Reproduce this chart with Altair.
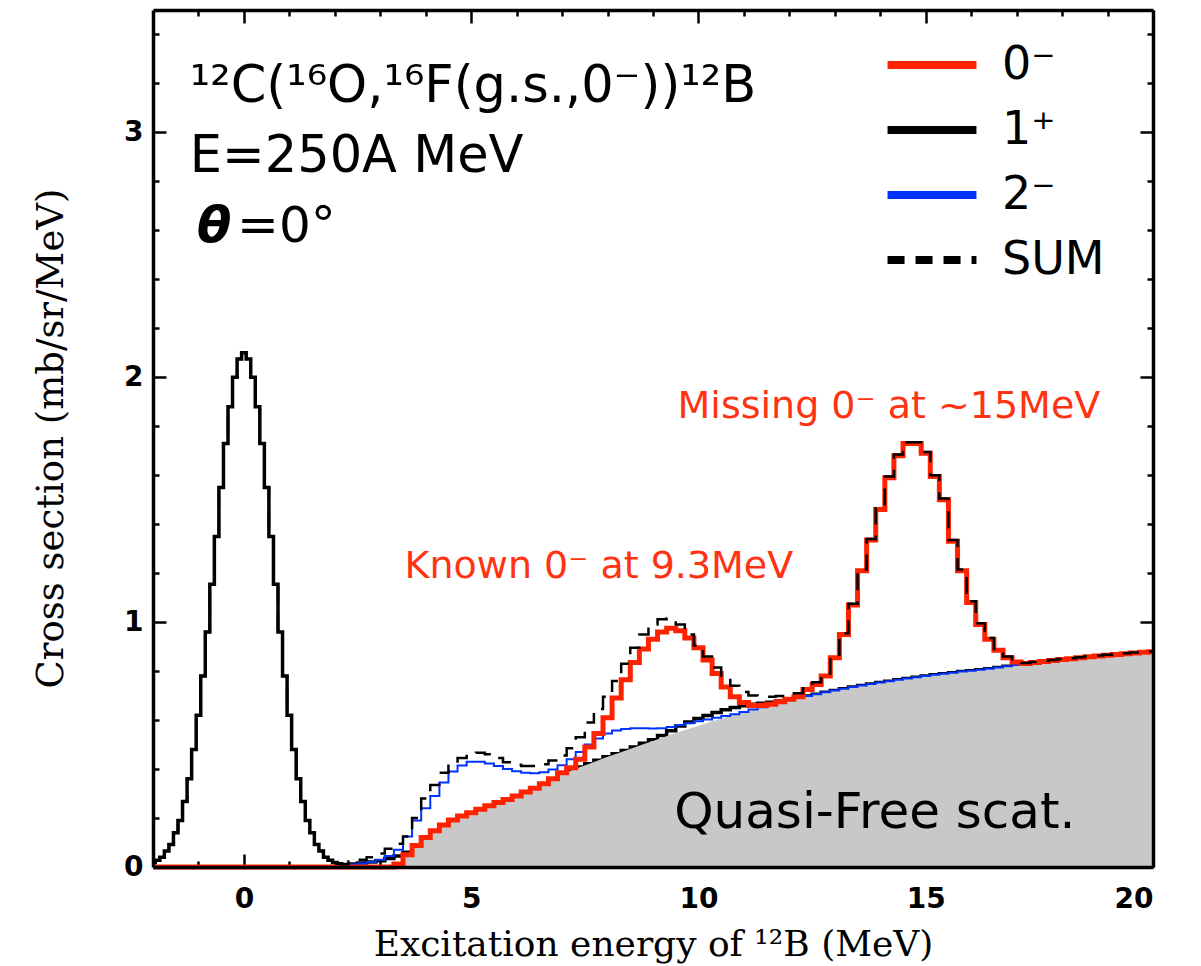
import altair as alt
import numpy as np
import pandas as pd

# ---------------- data ----------------
energy_mev = np.round(np.arange(-2.0, 20.0001, 0.2), 1)    # coarse bin centres (0.2 MeV)
energy_fine = np.round(np.arange(-2.0, 2.2001, 0.1), 1)    # g.s. peak region (0.1 MeV)
energy_tail = energy_mev[22:]                              # 2.4 ... 20 MeV

# ground-state (1+) peak, shared by the 1+ and SUM histograms, -2.0 ... 2.2 MeV
gs_peak = [
    0.018, 0.028, 0.04, 0.065, 0.092, 0.14, 0.19, 0.267, 0.36, 0.48,
    0.62, 0.78, 0.96, 1.155, 1.35, 1.55, 1.73, 1.88, 2.0, 2.075,
    2.1, 2.075, 2.0, 1.88, 1.73, 1.55, 1.35, 1.155, 0.96, 0.78,
    0.62, 0.48, 0.36, 0.267, 0.19, 0.14, 0.092, 0.065, 0.04, 0.028,
    0.018, 0.013, 0.01,
]

quasi_free = [
    0, 0, 0, 0, 0, 0, 0, 0, 0, 0,
    0, 0, 0, 0, 0, 0, 0, 0, 0, 0,
    0, 0, 0, 0, 0, 0, 0, 0.01, 0.05, 0.088,
    0.12, 0.148, 0.172, 0.192, 0.208, 0.222, 0.236, 0.25, 0.263, 0.276,
    0.29, 0.306, 0.322, 0.34, 0.36, 0.38, 0.394, 0.408, 0.422, 0.436,
    0.45, 0.463, 0.476, 0.489, 0.502, 0.515, 0.528, 0.541, 0.553, 0.565,
    0.577, 0.589, 0.6, 0.611, 0.622, 0.632, 0.642, 0.652, 0.662, 0.672,
    0.681, 0.69, 0.698, 0.706, 0.714, 0.721, 0.728, 0.735, 0.741, 0.747,
    0.753, 0.759, 0.765, 0.77, 0.775, 0.78, 0.785, 0.789, 0.793, 0.798,
    0.802, 0.806, 0.81, 0.815, 0.82, 0.825, 0.829, 0.833, 0.837, 0.841,
    0.845, 0.849, 0.853, 0.857, 0.86, 0.863, 0.866, 0.869, 0.872, 0.875, 0.877,
]

zero_minus = [
    0, 0, 0, 0, 0, 0, 0, 0, 0, 0,
    0, 0, 0, 0, 0, 0, 0, 0, 0, 0,
    0, 0, 0, 0, 0, 0, 0, 0.012, 0.05, 0.088,
    0.12, 0.148, 0.172, 0.192, 0.208, 0.222, 0.236, 0.25, 0.263, 0.276,
    0.29, 0.306, 0.322, 0.34, 0.36, 0.385, 0.405, 0.44, 0.49, 0.545,
    0.61, 0.69, 0.765, 0.835, 0.89, 0.93, 0.96, 0.975, 0.965, 0.935,
    0.895, 0.845, 0.79, 0.735, 0.695, 0.672, 0.66, 0.66, 0.665, 0.675,
    0.685, 0.695, 0.725, 0.745, 0.78, 0.855, 0.95, 1.07, 1.21, 1.335,
    1.46, 1.59, 1.68, 1.73, 1.73, 1.69, 1.595, 1.5, 1.33, 1.21,
    1.08, 0.99, 0.93, 0.885, 0.855, 0.837, 0.831, 0.835, 0.839, 0.843,
    0.847, 0.851, 0.855, 0.859, 0.862, 0.865, 0.868, 0.871, 0.874, 0.877, 0.879,
]

# 1+ beyond the g.s. peak, 2.4 ... 20 MeV
one_plus_tail = [
    0.012, 0.016, 0.02, 0.026, 0.035, 0.045, 0.06, 0.09,
    0.12, 0.148, 0.172, 0.192, 0.208, 0.222, 0.236, 0.25, 0.263, 0.276,
    0.29, 0.306, 0.322, 0.34, 0.36, 0.38, 0.394, 0.408, 0.422, 0.436,
    0.45, 0.463, 0.476, 0.49, 0.505, 0.52, 0.537, 0.556, 0.576, 0.592,
    0.606, 0.619, 0.631, 0.642, 0.651, 0.659, 0.665, 0.669, 0.673, 0.678,
    0.684, 0.691, 0.698, 0.706, 0.714, 0.721, 0.728, 0.735, 0.741, 0.747,
    0.753, 0.759, 0.765, 0.77, 0.775, 0.78, 0.785, 0.789, 0.793, 0.798,
    0.802, 0.806, 0.81, 0.815, 0.82, 0.825, 0.829, 0.833, 0.837, 0.841,
    0.845, 0.849, 0.853, 0.857, 0.86, 0.863, 0.866, 0.869, 0.872, 0.875, 0.877,
]

two_minus = [
    0, 0, 0, 0, 0, 0, 0, 0, 0, 0,
    0, 0, 0, 0, 0, 0, 0, 0, 0, 0,
    0.003, 0.006, 0.01, 0.014, 0.02, 0.03, 0.045, 0.07, 0.125, 0.19,
    0.24, 0.29, 0.345, 0.39, 0.415, 0.43, 0.43, 0.423, 0.412, 0.4,
    0.391, 0.385, 0.383, 0.387, 0.398, 0.416, 0.44, 0.47, 0.5, 0.525,
    0.545, 0.557, 0.564, 0.567, 0.567, 0.566, 0.567, 0.572, 0.58, 0.587,
    0.595, 0.602, 0.61, 0.617, 0.624, 0.633, 0.643, 0.652, 0.662, 0.672,
    0.681, 0.69, 0.698, 0.706, 0.714, 0.721, 0.728, 0.735, 0.741, 0.747,
    0.753, 0.759, 0.765, 0.77, 0.775, 0.78, 0.785, 0.789, 0.793, 0.798,
    0.802, 0.806, 0.81, 0.815, 0.82, 0.825, 0.829, 0.833, 0.837, 0.841,
    0.845, 0.849, 0.853, 0.857, 0.86, 0.863, 0.866, 0.869, 0.872, 0.875, 0.877,
]

# SUM beyond the g.s. peak, 2.4 ... 20 MeV
total_sum_tail = [
    0.022, 0.03, 0.04, 0.055, 0.075, 0.095, 0.125, 0.2,
    0.28, 0.335, 0.385, 0.42, 0.445, 0.465, 0.467, 0.46, 0.445, 0.428,
    0.418, 0.412, 0.412, 0.42, 0.435, 0.455, 0.485, 0.53, 0.59, 0.645,
    0.695, 0.76, 0.83, 0.895, 0.95, 0.99, 1.012, 1.015, 0.99, 0.95,
    0.905, 0.86, 0.815, 0.775, 0.74, 0.715, 0.7, 0.695, 0.695, 0.698,
    0.702, 0.71, 0.73, 0.755, 0.79, 0.86, 0.955, 1.075, 1.215, 1.34,
    1.465, 1.595, 1.685, 1.735, 1.735, 1.695, 1.6, 1.505, 1.335, 1.215,
    1.085, 0.995, 0.935, 0.89, 0.86, 0.84, 0.833, 0.837, 0.841, 0.845,
    0.849, 0.853, 0.857, 0.861, 0.864, 0.867, 0.87, 0.873, 0.876, 0.878, 0.88,
]

series_names = ["0⁻", "1⁺", "2⁻", "SUM"]
series_colors = ["#ff2200", "#000000", "#0033ff", "#000000"]
series_dash = [[1, 0], [1, 0], [1, 0], [17, 11]]

x_major = [0, 5, 10, 15, 20]
x_minor = [v for v in range(-1, 20) if v % 5 != 0]
y_major = [0, 1, 2, 3]
y_minor = [round(0.2 * k, 1) for k in range(1, 18) if k % 5 != 0]

# annotations
title_lines = ["¹²C(¹⁶O,¹⁶F(g.s.,0⁻))¹²B", "E=250A MeV"]
title_e = [-1.19, -1.19]
title_v = [3.125, 2.84]
theta_text = ["θ"]
theta_rest = ["=0°"]
known_text = ["Known 0⁻ at 9.3MeV"]
missing_text = ["Missing 0⁻ at ~15MeV"]
qf_text = ["Quasi-Free scat."]

# ---------------- chart ----------------
W, H = 1000, 857
xsc = alt.Scale(domain=[-2, 20], nice=False, zero=False)
ysc = alt.Scale(domain=[0, 3.5], nice=False, zero=False)


def tick_axis(orient, values, length, offset, domain=False):
    kw = dict(orient=orient, values=values, tickSize=length, tickWidth=2.5,
              tickColor="black", labels=False, grid=False, title="",
              offset=offset, domain=domain)
    if domain:
        kw.update(domainColor="black", domainWidth=3.5, zindex=1)
    return alt.Axis(**kw)


x_label_axis = alt.Axis(orient="bottom", values=x_major, format="d", ticks=False,
                        domain=True, domainColor="black", domainWidth=3.5, zindex=1,
                        grid=False, labelFont="DejaVu Sans", labelFontWeight="bold",
                        labelFontSize=28, labelColor="black", labelPadding=18,
                        title="Excitation energy of ¹²B (MeV)", titleFont="DejaVu Serif",
                        titleFontSize=36, titleFontWeight="normal", titleColor="black",
                        titleBaseline="alphabetic", titleY=88)
y_label_axis = alt.Axis(orient="left", values=y_major, format="d", ticks=False,
                        domain=True, domainColor="black", domainWidth=3.5, zindex=1,
                        grid=False, labelFont="DejaVu Sans", labelFontWeight="bold",
                        labelFontSize=28, labelColor="black", labelPadding=10,
                        title="Cross section (mb/sr/MeV)", titleFont="DejaVu Serif",
                        titleFontSize=37, titleFontWeight="normal", titleColor="black",
                        titleAngle=270, titleBaseline="alphabetic", titleAlign="center",
                        titleX=-91, titleY=428)

leg = alt.Legend(title=None, orient="none", legendX=737, legendY=13,
                 symbolType="M-1.17,0H1.17", symbolSize=5776, symbolStrokeWidth=8,
                 labelFont="DejaVu Sans", labelFontSize=46, labelColor="black",
                 labelOffset=28, rowPadding=0, padding=0)
color = alt.Color("series:N", scale=alt.Scale(domain=series_names, range=series_colors), legend=leg)
dash = alt.StrokeDash("series:N", scale=alt.Scale(domain=series_names, range=series_dash), legend=leg)


def curve_df(es, vals, name):
    return pd.DataFrame({"E": es, "xs": vals, "series": name})


one_plus_df = pd.concat([curve_df(energy_fine, gs_peak, "1⁺"),
                         curve_df(energy_tail, one_plus_tail, "1⁺")], ignore_index=True)
sum_df = pd.concat([curve_df(energy_fine, gs_peak, "SUM"),
                    curve_df(energy_tail, total_sum_tail, "SUM")], ignore_index=True)


def xenc(axis):
    return alt.X("E:Q", scale=xsc, axis=axis)


def yenc(axis):
    return alt.Y("xs:Q", scale=ysc, axis=axis)


black = alt.Chart(one_plus_df).mark_line(interpolate="step", strokeWidth=3.5).encode(
    x=xenc(x_label_axis), y=yenc(y_label_axis), color=color, strokeDash=dash)

gray = alt.Chart(pd.DataFrame({"E": energy_mev, "xs": quasi_free})).mark_area(
    color="#c8c8c8", interpolate="linear").encode(
    x=xenc(tick_axis("top", x_major, 13, -H)), y=yenc(tick_axis("right", y_major, 13, -W)))

blue = alt.Chart(curve_df(energy_mev, two_minus, "2⁻")).mark_line(
    interpolate="step", strokeWidth=2).encode(
    x=xenc(tick_axis("top", x_minor, 6, -H)), y=yenc(tick_axis("right", y_minor, 6, -W)),
    color=color, strokeDash=dash)

red = alt.Chart(curve_df(energy_mev, zero_minus, "0⁻")).mark_line(
    interpolate="step", strokeWidth=5).encode(
    x=xenc(tick_axis("bottom", x_major, 13, -H, domain=True)),
    y=yenc(tick_axis("left", y_major, 13, -W, domain=True)),
    color=color, strokeDash=dash)

sumline = alt.Chart(sum_df).mark_line(interpolate="step", strokeWidth=2.5).encode(
    x=xenc(tick_axis("bottom", x_minor, 6, -H)), y=yenc(tick_axis("left", y_minor, 6, -W)),
    color=color, strokeDash=dash)


def text_layer(texts, es, vs, **mark):
    d = pd.DataFrame({"label": texts, "E": es, "xs": vs})
    return alt.Chart(d).mark_text(**mark).encode(
        x=alt.X("E:Q", scale=xsc, axis=None), y=alt.Y("xs:Q", scale=ysc, axis=None),
        text="label:N")


t_title = text_layer(title_lines, title_e, title_v, font="DejaVu Sans", fontSize=51,
                     align="left", baseline="alphabetic", color="black")
t_theta = text_layer(theta_text, [-1.03], [2.553], font="DejaVu Sans", fontSize=50,
                     fontStyle="italic", fontWeight="bold", align="left",
                     baseline="alphabetic", color="black")
t_theta2 = text_layer(theta_rest, [-0.15], [2.553], font="DejaVu Sans", fontSize=50,
                      align="left", baseline="alphabetic", color="black")
t_known = text_layer(known_text, [7.81], [1.18], font="DejaVu Sans", fontSize=38,
                     align="center", baseline="alphabetic", color="#ff3311")
t_missing = text_layer(missing_text, [14.19], [1.835], font="DejaVu Sans", fontSize=38,
                       align="center", baseline="alphabetic", color="#ff3311")
t_qf = text_layer(qf_text, [13.88], [0.158], font="DejaVu Sans", fontSize=50,
                  align="center", baseline="alphabetic", color="black")

chart = alt.layer(black, gray, blue, red, sumline,
                  t_title, t_theta, t_theta2, t_known, t_missing, t_qf).resolve_axis(
    x="independent", y="independent").properties(
    width=W, height=H,
    autosize=alt.AutoSizeParams(type="none"),
    padding={"left": 153, "top": 10, "right": 48, "bottom": 99},
).configure_view(stroke="black", strokeWidth=3.5).configure(background="white")

chart.save("out.html", embed_options={"renderer": "svg", "actions": False})
